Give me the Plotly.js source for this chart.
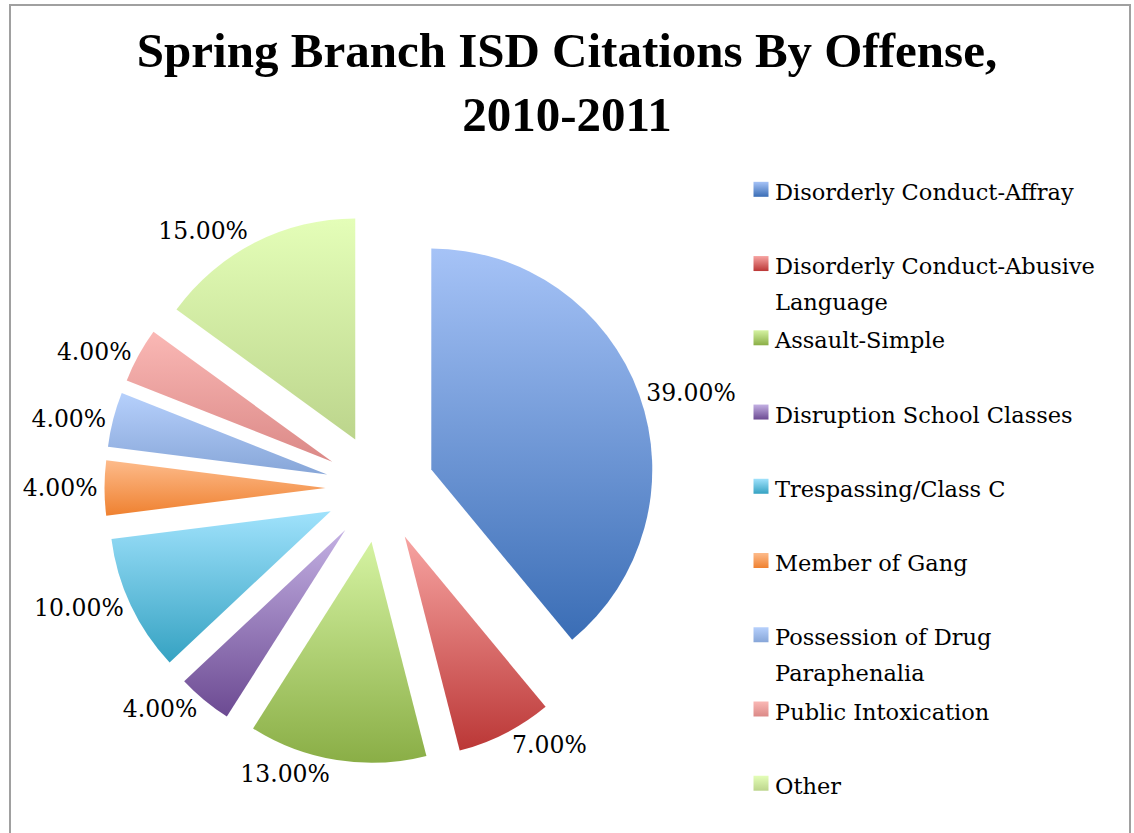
<!DOCTYPE html>
<html>
<head>
<meta charset="utf-8">
<script src="https://cdn.plot.ly/plotly-3.0.1.min.js"></script>
<style>
  html, body { margin: 0; padding: 0; background: #fff; }
  #frame { position: absolute; left: 9px; top: 4px; width: 1122px; height: 860px;
           border: 2px solid #a0a0a0; box-sizing: border-box; pointer-events: none; }
  #chart { position: absolute; left: 0; top: 0; width: 1134px; height: 833px; }
</style>
</head>
<body>
<div id="chart"></div>
<div id="frame"></div>
<script>
// ---- data ----
var categories = [
  'Disorderly Conduct-Affray',
  'Disorderly Conduct-Abusive Language',
  'Assault-Simple',
  'Disruption School Classes',
  'Trespassing/Class C',
  'Member of Gang',
  'Possession of Drug Paraphenalia',
  'Public Intoxication',
  'Other'
];
var legendLabels = [
  'Disorderly Conduct-Affray',
  'Disorderly Conduct-Abusive<br>Language',
  'Assault-Simple',
  'Disruption School Classes',
  'Trespassing/Class C',
  'Member of Gang',
  'Possession of Drug<br>Paraphenalia',
  'Public Intoxication',
  'Other'
];
var percentValues = [39, 7, 13, 4, 10, 4, 4, 4, 15];
var sliceColors = ['#6e91d4', '#d9706e', '#b1d076', '#9882bb', '#6cc2df', '#f69e5c', '#9ebbea', '#ea9f9d', '#d1eaa3'];
var gradTop    = ['#a6c3f7', '#f7a4a2', '#d5f3a2', '#c3b0e3', '#a0e2fc', '#fdbb8b', '#b6d0fc', '#fab8b5', '#e4feb8'];
var gradBottom = ['#3a6db5', '#bb3736', '#8aae46', '#6c4a92', '#35a2c2', '#ef8130', '#87a6d8', '#db8987', '#bcd58c'];

// ---- layout helpers ----
var W = 1134, H = 833;
var LEG_BASE = 27.4, LEG_TXT = 22.5;
var legendNames = legendLabels.map(function (s) {
  var parts = s.split('<br>');
  var styled = parts.map(function (p) { return "<span style='font-size:" + LEG_TXT + "px'>" + p + '</span>'; });
  while (styled.length < 2) styled.push('\u00a0');
  return styled.join('<br>');
});

var pieCx = 380, pieCy = 488, pieHalf = 275.5;

var trace = {
  type: 'pie',
  labels: legendNames,
  values: percentValues,
  customdata: categories,
  sort: false,
  direction: 'clockwise',
  rotation: 0,
  pull: percentValues.map(function () { return 0.2467; }),
  marker: { colors: sliceColors, line: { width: 0 } },
  textposition: 'outside',
  texttemplate: '%{value:.2f}%',
  textfont: { family: 'DejaVu Serif', size: 23.5, color: '#000' },
  hovertemplate: '%{customdata}: %{value:.2f}%<extra></extra>',
  domain: {
    x: [(pieCx - pieHalf) / W, (pieCx + pieHalf) / W],
    y: [1 - (pieCy + pieHalf) / H, 1 - (pieCy - pieHalf) / H]
  }
};

var layout = {
  width: W, height: H,
  margin: { l: 0, r: 0, t: 0, b: 0, autoexpand: false },
  paper_bgcolor: '#fff',
  title: {
    text: 'Spring Branch ISD Citations By Offense,<br>2010-2011',
    font: { family: 'Liberation Serif', size: 49, color: '#000', weight: 'bold' },
    x: 0.5, xanchor: 'center',
    y: 1 - 67 / H, yref: 'container', yanchor: 'top'
  },
  showlegend: true,
  legend: {
    x: 735 / W, xanchor: 'left',
    y: 1 - 165 / H, yanchor: 'top',
    valign: 'top',
    font: { family: 'DejaVu Serif', size: LEG_BASE, color: '#000' },
    bgcolor: 'rgba(0,0,0,0)'
  }
};

Plotly.newPlot('chart', [trace], layout, { staticPlot: true }).then(function (gd) {
  var svg = gd.querySelector('svg.main-svg');
  var ns = 'http://www.w3.org/2000/svg';
  var defs = svg.querySelector('defs') || svg.insertBefore(document.createElementNS(ns, 'defs'), svg.firstChild);
  gradTop.forEach(function (c, i) {
    var lg = document.createElementNS(ns, 'linearGradient');
    lg.setAttribute('id', 'sliceGrad' + i);
    lg.setAttribute('x1', '0'); lg.setAttribute('y1', '0');
    lg.setAttribute('x2', '0'); lg.setAttribute('y2', '1');
    var s1 = document.createElementNS(ns, 'stop');
    s1.setAttribute('offset', '0'); s1.setAttribute('stop-color', c);
    var s2 = document.createElementNS(ns, 'stop');
    s2.setAttribute('offset', '1'); s2.setAttribute('stop-color', gradBottom[i]);
    lg.appendChild(s1); lg.appendChild(s2);
    defs.appendChild(lg);
  });
  var slices = gd.querySelectorAll('g.slice path.surface');
  slices.forEach(function (p, i) { p.style.fill = 'url(#sliceGrad' + i + ')'; });
  var legPts = gd.querySelectorAll('g.legend .legendpoints path');
  legPts.forEach(function (p, i) {
    p.style.fill = 'url(#sliceGrad' + i + ')';
    p.setAttribute('transform', 'translate(26,0) scale(1.25)');
  });
});
</script>
</body>
</html>
